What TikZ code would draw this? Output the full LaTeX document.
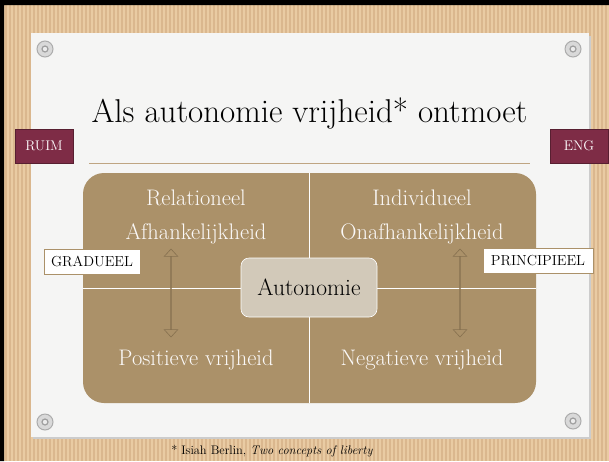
\documentclass[tikz,border=0pt]{standalone}
\usepackage{tikz}
\usetikzlibrary{shapes.arrows}

\definecolor{wood}{HTML}{E9CBA3}
\definecolor{woodline}{HTML}{DAB78E}
\definecolor{paper}{HTML}{F5F5F4}
\definecolor{tan}{HTML}{AB9169}
\definecolor{tandark}{HTML}{86704F}
\definecolor{wine}{HTML}{7E2C46}
\definecolor{pale}{HTML}{D2C9B9}
\definecolor{rulecol}{HTML}{BFA582}

\begin{document}
\begin{tikzpicture}[x=1pt,y=-1pt,
  endtag/.style={rectangle,draw=wine!70!black,fill=wine,text=white,font=\fontsize{14}{16}\selectfont,minimum width=58pt,minimum height=34pt,inner sep=0pt},
  sidebox/.style={rectangle,draw=tan,fill=white,font=\fontsize{14.5}{16}\selectfont,minimum height=25pt,inner sep=0pt},
  quad/.style={text=white!95!tan,font=\fontsize{22.5}{26}\selectfont,anchor=base},
  updown/.style={double arrow,draw=tandark,fill=tan,semithick,rotate=90,minimum height=88pt,minimum width=11pt,inner sep=0pt,double arrow head extend=6.5pt,double arrow tip angle=85},
  pinhead/.style={circle,draw=gray!65,fill=gray!30,line width=1pt,minimum size=16pt,inner sep=0pt},
  pinhole/.style={circle,draw=gray!75,fill=gray!15,line width=1.2pt,minimum size=6pt,inner sep=0pt}]

\useasboundingbox (0,0) rectangle (609,461);

% wood and paper
\fill[wood] (0,0) rectangle (609,461);
\foreach \x in {2,6,...,608} \draw[woodline,line width=1.2pt] (\x,0) -- (\x,461);
\fill[black] (0,0) rectangle (609,5) (0,0) rectangle (4,461);
\fill[gray!40] (33,36) rectangle (591,439);
\fill[paper] (31,33) rectangle (589,437);

\foreach \px/\py [count=\i] in {45/49,573/49,45/422,573/421}{
  \node[pinhead] (pin\i) at (\px,\py) {};
  \node[pinhole] at (pin\i) {};
}

% title
\node[font=\fontsize{33}{38}\selectfont,anchor=base] (title) at (309.5,122) {Als autonomie vrijheid* ontmoet};
\node[endtag] (ruim) at (44,146) {RUIM};
\node[endtag] (eng) at (579,146) {ENG};
\draw[rulecol,semithick] (89,163) -- (530,163);

% four quadrants
\node[fill=tan,rounded corners=21pt,minimum width=453pt,minimum height=230pt,inner sep=0pt] (field) at (309.5,288) {};
\draw[white,semithick] (field.north) -- (field.south) (field.west) -- (field.east);

\node[quad] (rel) at (196,205) {Relationeel};
\node[quad] (afh) at (196,239) {Afhankelijkheid};
\node[quad] (ind) at (422,205) {Individueel};
\node[quad] (onafh) at (422,239) {Onafhankelijkheid};
\node[quad] (pos) at (196,365) {Positieve vrijheid};
\node[quad] (neg) at (422,365) {Negatieve vrijheid};

\node[updown] (leftarr) at (171,293) {};
\node[updown] (rightarr) at (460,293) {};

\node[fill=pale,draw=white,semithick,rounded corners=8pt,minimum width=136pt,minimum height=59pt,inner sep=0pt] (auto) at (309,287.5) {};
\node[font=\fontsize{23.5}{26}\selectfont,anchor=base] (autotext) at (auto.center |- 0,295) {Autonomie};

\node[sidebox,minimum width=96pt] (grad) at (92,261.5) {GRADUEEL};
\node[sidebox,minimum width=110pt] (princ) at (538,261) {PRINCIPIEEL};

% footnote
\node[font=\fontsize{12.4}{14}\selectfont,anchor=base] (note) at (272,454) {* Isiah Berlin, \textit{Two concepts of liberty}};
\end{tikzpicture}
\end{document}
